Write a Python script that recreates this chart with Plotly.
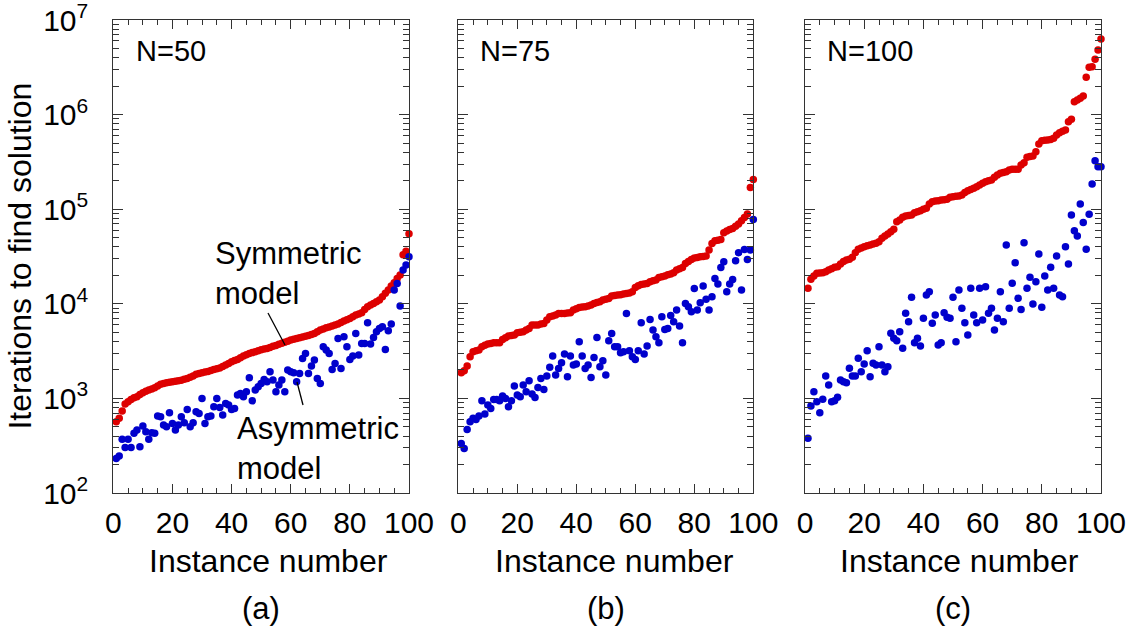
import plotly.graph_objects as go

instances = list(range(1, 101))

sym_n50 = [566, 615, 735, 871, 922, 976, 1016, 1041, 1100, 1148,
           1190, 1225, 1260, 1297, 1350, 1407, 1440, 1465, 1480, 1500,
           1520, 1538, 1560, 1589, 1625, 1669, 1730, 1795, 1830, 1868,
           1900, 1929, 1975, 2026, 2060, 2094, 2170, 2250, 2340, 2442,
           2510, 2585, 2690, 2802, 2900, 2991, 3050, 3114, 3190, 3268,
           3320, 3378, 3460, 3548, 3630, 3725, 3820, 3911, 4020, 4139,
           4220, 4310, 4380, 4448, 4540, 4633, 4750, 4864, 5060, 5275,
           5430, 5584, 5700, 5815, 5960, 6105, 6330, 6568, 6800, 7010,
           7300, 7604, 7820, 8050, 8700, 9315, 9700, 10100, 10500, 10960,
           11900, 12890, 13970, 15390, 16700, 18550, 20120, 33000, 36000, 55000]

asym_n50 = [232, 246, 369, 303, 369, 303, 427, 462, 308, 510,
            444, 369, 434, 427, 651, 640, 523, 501, 705, 544,
            462, 523, 640, 553, 765, 501, 553, 723, 694, 1000,
            544, 640, 651, 817, 1000, 803, 667, 885, 850, 765,
            784, 1084, 1129, 1041, 1176, 1653, 944, 1225, 1328, 1441,
            1588, 1500, 1914, 1563, 1176, 1384, 1563, 1176, 1995, 1914,
            1868, 1500, 1837, 2648, 2991, 1837, 2198, 2541, 1626, 1441,
            3518, 3243, 2991, 2026, 2344, 4305, 2075, 4487, 3518, 2583,
            2801, 4864, 2871, 3811, 3811, 6310, 3751, 4416, 5067, 5495,
            5728, 3296, 5190, 6105, 13970, 16430, 9460, 22740, 25650, 31440]

sym_n75 = [1868, 1960, 2198, 2757, 3113, 3180, 3243, 3517, 3650, 3751,
           3810, 3875, 3875, 3875, 4204, 4380, 4560, 4620, 4670, 4943,
           5000, 5067, 5300, 5495, 5960, 5960, 5960, 6100, 6207, 6731,
           7300, 7450, 7603, 7918, 7918, 7918, 8000, 8047, 8590, 8850,
           9163, 9250, 9313, 9500, 9700, 10100, 10300, 10520, 11000, 11140,
           11410, 12080, 12250, 12370, 12500, 12680, 12880, 13000, 13420, 14900,
           15500, 16030, 16200, 16430, 17110, 17500, 17820, 19020, 19300, 19640,
           20300, 20620, 21290, 22740, 23500, 24260, 26740, 28000, 29470, 30500,
           30920, 31440, 31700, 31980, 36990, 43490, 46430, 47000, 47940, 56380,
           59000, 61110, 62640, 66000, 69620, 75520, 81900, 88900, 169800, 206500]

asym_n75 = [334, 296, 470, 567, 615, 600, 651, 945, 683, 850,
            784, 976, 976, 945, 1059, 1000, 817, 945, 1350, 1084,
            1041, 1384, 1176, 1537, 1111, 1025, 1307, 1626, 1245, 1722,
            2128, 2801, 1765, 2075, 2383, 2942, 1694, 2801, 2250, 2306,
            3972, 2801, 2075, 2250, 1667, 2712, 4416, 2162, 2500, 1765,
            4071, 4864, 3517, 3517, 3040, 3113, 7918, 3191, 2757, 2583,
            3191, 6310, 2942, 3573, 6840, 5275, 4487, 3875, 7300, 5360,
            5495, 7540, 6457, 8590, 5815, 3875, 10100, 9313, 8245, 14550,
            8590, 10260, 15380, 11140, 8590, 11880, 18540, 16170, 24260, 27860,
            13420, 16170, 18110, 28510, 34670, 13970, 37580, 29470, 36990, 78000]

sym_n100 = [14560, 18140, 19670, 20990, 21200, 21330, 21860, 22760, 23500, 24300,
            24690, 26350, 28000, 29040, 29510, 30980, 34740, 37660, 39000, 40200,
            41000, 41870, 42890, 43590, 45370, 49190, 52000, 54690, 57910, 61270,
            73830, 76840, 82040, 84770, 86000, 86860, 91950, 94000, 96510, 99700,
            102100, 113500, 120200, 122000, 123200, 125200, 126000, 127200, 133500, 135700,
            136800, 137900, 141400, 149700, 157100, 162000, 166400, 173200, 180000, 187800,
            195500, 200000, 203600, 217100, 230000, 239500, 245000, 249400, 259700, 263900,
            264000, 264500, 293200, 310500, 353400, 360000, 365000, 405600, 488800, 530100,
            535000, 538500, 545000, 561000, 608300, 643900, 665000, 687500, 841500, 891000,
            1370000, 1427000, 1486000, 1573000, 2478000, 3163000, 3213000, 3841000, 4818000, 6295000]

asym_n100 = [378, 832, 1178, 924, 707, 978, 1725, 1386, 924, 946,
             1026, 1566, 1504, 1467, 2078, 1725, 1725, 2652, 1918, 2311,
             3197, 1698, 2348, 2256, 3525, 2256, 1918, 2163, 4872, 4312,
             4077, 5072, 3383, 7926, 6471, 11700, 3882, 4312, 3581, 7017,
             12380, 13430, 6216, 7614, 3666, 3882, 8051, 7192, 7017, 11700,
             3978, 13990, 8953, 6318, 4680, 14570, 7614, 6318, 14570, 6740,
             15170, 7926, 8953, 5287, 7017, 13430, 6471, 41870, 8953, 16450,
             27220, 11420, 8723, 44300, 14570, 19040, 9949, 17150, 33570, 9186,
             19670, 13990, 24300, 14570, 31960, 12380, 11890, 40200, 26350, 86860,
             59360, 52100, 113500, 72130, 37660, 88290, 184500, 325700, 281600, 281600]

panel_labels = ["N=50", "N=75", "N=100"]
sub_labels = ["(a)", "(b)", "(c)"]
x_tickvals = [0, 20, 40, 60, 80, 100]
y_tickvals = [1e2, 1e3, 1e4, 1e5, 1e6, 1e7]
y_ticktext = ["10<sup>2</sup>", "10<sup>3</sup>", "10<sup>4</sup>",
              "10<sup>5</sup>", "10<sup>6</sup>", "10<sup>7</sup>"]
y_minor = [m * 10 ** k for k in range(2, 7) for m in range(2, 10)]

sym_series = [sym_n50, sym_n75, sym_n100]
asym_series = [asym_n50, asym_n75, asym_n100]

RED = "#dd0000"
BLUE = "#0000cc"
FONT = "Liberation Sans, Arial, sans-serif"
W, H = 1134, 632

# pixel layout of panels
x_dom_px = [(113.3, 409.0), (458.3, 753.3), (805.0, 1101.0)]
y_dom_px = (20.0, 493.0)

fig = go.Figure()
for k in range(3):
    xa = "x" if k == 0 else f"x{k+1}"
    ya = "y" if k == 0 else f"y{k+1}"
    fig.add_trace(go.Scatter(x=instances, y=sym_series[k], mode="markers",
                             marker=dict(color=RED, size=7.5),
                             xaxis=xa, yaxis=ya, cliponaxis=False, showlegend=False))
    fig.add_trace(go.Scatter(x=instances, y=asym_series[k], mode="markers",
                             marker=dict(color=BLUE, size=7.5),
                             xaxis=xa, yaxis=ya, cliponaxis=False, showlegend=False))

axis_common = dict(showline=True, linecolor="#333333", linewidth=1.2,
                   mirror="ticks", ticks="inside", tickcolor="#333333",
                   showgrid=False, zeroline=False, automargin=False)

layout = dict(width=W, height=H, autosize=False,
              margin=dict(l=0, r=0, t=0, b=0, autoexpand=False),
              paper_bgcolor="white", plot_bgcolor="white",
              font=dict(family=FONT, color="black"))

for k in range(3):
    xname = "xaxis" if k == 0 else f"xaxis{k+1}"
    yname = "yaxis" if k == 0 else f"yaxis{k+1}"
    x0, x1 = x_dom_px[k]
    layout[xname] = dict(axis_common, domain=[x0 / W, x1 / W], range=[0, 100],
                         anchor="y" if k == 0 else f"y{k+1}",
                         tickvals=x_tickvals, ticklen=9, tickwidth=1.2,
                         tickfont=dict(size=30, family=FONT, color="black"),
                         ticklabelstandoff=3, ticklabeloverflow="allow",
                         minor=dict(ticks="inside", dtick=5, tick0=0, ticklen=5,
                                    tickcolor="#333333", tickwidth=1))
    layout[yname] = dict(axis_common, domain=[1 - y_dom_px[1] / H, 1 - y_dom_px[0] / H],
                         type="log", range=[2, 7],
                         anchor="x" if k == 0 else f"x{k+1}",
                         tickvals=y_tickvals, ticktext=y_ticktext,
                         ticklen=10, tickwidth=1.2,
                         showticklabels=(k == 0),
                         tickfont=dict(size=30, family=FONT, color="black"),
                         ticklabelstandoff=18, ticklabeloverflow="allow",
                         minor=dict(ticks="inside", tickvals=y_minor, ticklen=6,
                                    tickcolor="#333333", tickwidth=1))

annotations = []
n_label_x = [134, 478, 825]
title_x = [268.5, 614, 959]
sub_x = [261, 606, 953]
for k in range(3):
    annotations.append(dict(text=panel_labels[k], x=n_label_x[k] / W, y=1 - 51 / H,
                            xref="paper", yref="paper", xanchor="left", yanchor="middle",
                            showarrow=False, font=dict(size=29, family=FONT, color="black")))
    annotations.append(dict(text="Instance number", x=title_x[k] / W, y=1 - 561 / H,
                            xref="paper", yref="paper", xanchor="center", yanchor="middle",
                            showarrow=False, font=dict(size=32, family=FONT, color="black")))
    annotations.append(dict(text=sub_labels[k], x=sub_x[k] / W, y=1 - 608 / H,
                            xref="paper", yref="paper", xanchor="center", yanchor="middle",
                            showarrow=False, font=dict(size=31, family=FONT, color="black")))

annotations.append(dict(text="Iterations to find solution", x=20 / W, y=1 - 256.6 / H,
                        xref="paper", yref="paper", xanchor="center", yanchor="middle",
                        textangle=-90, showarrow=False,
                        font=dict(size=32, family=FONT, color="black")))
annotations.append(dict(text="Symmetric<br>model", x=213 / W, y=1 - 273 / H,
                        xref="paper", yref="paper", xanchor="left", yanchor="middle",
                        align="left", showarrow=False,
                        font=dict(size=31, family=FONT, color="black")))
annotations.append(dict(text="Asymmetric<br>model", x=235 / W, y=1 - 448 / H,
                        xref="paper", yref="paper", xanchor="left", yanchor="middle",
                        align="left", showarrow=False,
                        font=dict(size=31, family=FONT, color="black")))
layout["annotations"] = annotations

layout["shapes"] = [
    dict(type="line", xref="paper", yref="paper",
         x0=268 / W, y0=1 - 313 / H, x1=285 / W, y1=1 - 345 / H,
         line=dict(color="black", width=1.3)),
    dict(type="line", xref="paper", yref="paper",
         x0=297 / W, y0=1 - 382 / H, x1=303 / W, y1=1 - 405 / H,
         line=dict(color="black", width=1.3)),
]

fig.update_layout(**layout)
fig.write_html("out.html")
